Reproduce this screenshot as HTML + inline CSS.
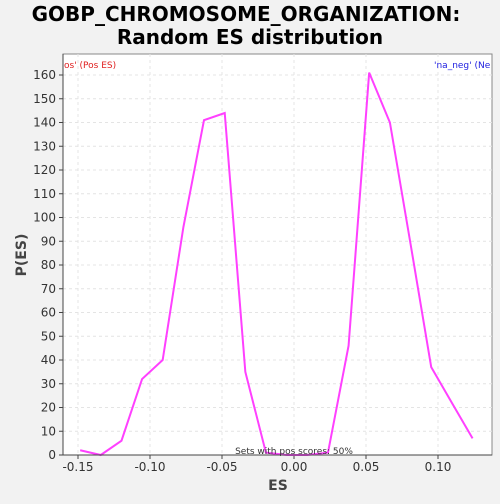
<!DOCTYPE html>
<html><head><meta charset="utf-8"><style>
body{margin:0;background:#f2f2f2;font-family:"DejaVu Sans","Liberation Sans",sans-serif;}
svg text{font-family:"DejaVu Sans","Liberation Sans",sans-serif;}
</style></head><body>
<svg id="c" width="500" height="500">
<rect x="0" y="0" width="500" height="500" fill="#f2f2f2"/>
<text x="246" y="21" text-anchor="middle" font-size="20" font-weight="bold" fill="#000">GOBP_CHROMOSOME_ORGANIZATION:</text>
<text x="250" y="44" text-anchor="middle" font-size="20" font-weight="bold" fill="#000">Random ES distribution</text>
<rect x="63" y="54" width="429" height="401" fill="#fff" stroke="#888"/>
<g id="grid"></g><g id="ticks"></g>
<path id="line" fill="none" stroke="#ff40ff" stroke-width="2"/>
<line x1="63" y1="455" x2="492" y2="455" stroke="#444"/>
<line x1="63" y1="54" x2="63" y2="455" stroke="#444"/>
<text x="64" y="68" font-size="9" fill="#e02020">os' (Pos ES)</text>
<text x="434" y="68" font-size="9" fill="#2020e0">'na_neg' (Ne</text>
<text x="294" y="454" text-anchor="middle" font-size="9" fill="#333">Sets with pos scores: 50%</text>
<text x="278" y="490" text-anchor="middle" font-size="14" font-weight="bold" fill="#444">ES</text>
<text x="26" y="255" text-anchor="middle" font-size="14" font-weight="bold" fill="#444" transform="rotate(-90 26 255)">P(ES)</text>
</svg>
<script>
const esValues=[-0.1485,-0.1342,-0.1198,-0.1055,-0.0912,-0.0768,-0.0625,-0.0481,-0.0338,-0.0195,-0.0051,0.0092,0.0236,0.0379,0.0522,0.0666,0.0809,0.0953,0.1096,0.1240];
const densities=[2,0,6,32,40,96,141,144,35,1,0,0,1,46,161,140,89,37,22,7];
const xTicks=[-0.15,-0.10,-0.05,0.00,0.05,0.10];
const xTickLabels=["-0.15","-0.10","-0.05","0.00","0.05","0.10"];
const yTicks=[0,10,20,30,40,50,60,70,80,90,100,110,120,130,140,150,160];
const X=v=>294+v*1440, Y=v=>455-v*2.375;
const ns="http://www.w3.org/2000/svg";
const g=document.getElementById('grid'), t=document.getElementById('ticks');
function mk(tag,a,p){const e=document.createElementNS(ns,tag);for(const k in a)e.setAttribute(k,a[k]);p.appendChild(e);return e;}
yTicks.forEach(v=>{
 const l=mk('line',{x1:63,x2:492,y1:Y(v),y2:Y(v),stroke:'#e4e4e4','stroke-dasharray':'3,3'},g);
 
 
 mk('line',{x1:59,x2:63,y1:Y(v),y2:Y(v),stroke:'#444'},t);
 const tx=mk('text',{x:56,y:Y(v)+4,'text-anchor':'end','font-size':12,fill:'#333'},t);tx.textContent=v;
 
 
});
xTicks.forEach((v,i)=>{
 const l=mk('line',{x1:X(v),x2:X(v),y1:54,y2:455,stroke:'#e4e4e4','stroke-dasharray':'3,3'},g);
 
 
 mk('line',{x1:X(v),x2:X(v),y1:455,y2:459,stroke:'#444'},t);
 const tx=mk('text',{x:X(v),y:471,'text-anchor':'middle','font-size':12,fill:'#333'},t);tx.textContent=xTickLabels[i];
 
 
});
document.getElementById('line').setAttribute('d',esValues.map((v,i)=>(i?'L':'M')+X(v)+','+Y(densities[i])).join(' '));
</script>
</body></html>
